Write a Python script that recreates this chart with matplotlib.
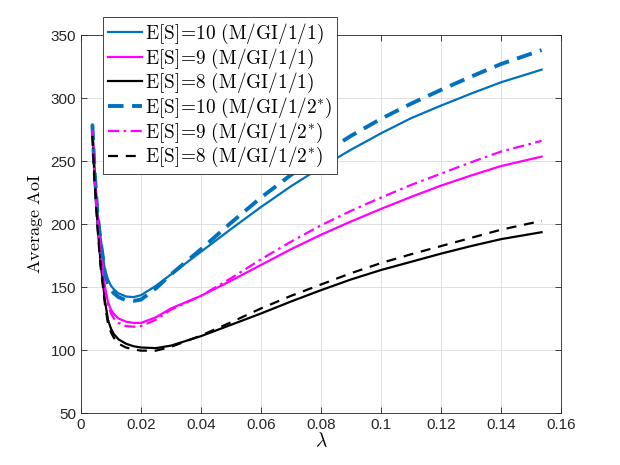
import numpy as np
import matplotlib
matplotlib.use("Agg")
from matplotlib import pyplot as plt

# lambda values
lam = [0.0038, 0.0045, 0.0055, 0.0065, 0.008, 0.009, 0.01, 0.011, 0.0125, 0.015,
       0.0175, 0.02, 0.025, 0.03, 0.04, 0.05, 0.06, 0.07, 0.08, 0.09, 0.1, 0.11,
       0.12, 0.13, 0.14, 0.1535]

# M/GI/1/1
aoi_s10_11 = [279, 245, 210, 190, 163, 156, 151, 148, 145, 142.5,
              142, 143.5, 151, 160, 178, 196, 213.5, 230, 245, 259, 272, 284,
              294, 303.5, 312.5, 322.5]
aoi_s9_11 = [276, 242, 206, 181, 150, 138, 132, 128.5, 125, 122.5,
             121.5, 121.5, 126, 133, 143, 155, 167.5, 180, 191.5, 202, 212, 221.5,
             230.5, 238.5, 246, 253.5]
aoi_s8_11 = [272, 238, 200, 170, 139, 124, 117, 112.5, 108.5, 105,
             103, 102, 101.5, 103.5, 111, 120, 129, 138.5, 147.5, 156, 163.5, 170,
             176.5, 182.5, 188, 193.5]

# M/GI/1/2*
aoi_s10_12 = [279, 243, 208, 187, 161, 153, 148, 145, 142, 139.5,
              139, 140, 149, 160, 180, 201, 221, 239, 255, 270, 283.5, 295.5,
              306.5, 317, 327, 338]
aoi_s9_12 = [275, 240, 203, 177, 148, 136, 129, 125, 121.5, 119,
             118.5, 119, 124, 132, 143, 157, 172, 186, 199, 210.5, 221, 231,
             240, 249, 257.5, 266]
aoi_s8_12 = [270, 235, 197, 167, 136, 121, 114, 109.5, 105, 102,
             100.5, 99.5, 99.5, 102.5, 111.5, 122, 133, 143, 152, 161, 169, 176,
             182.5, 189, 195.5, 202.5]

labels = [r'$\mathrm{E[S]\!=\!10\ (M/GI/1/1)}$',
          r'$\mathrm{E[S]\!=\!9\ (M/GI/1/1)}$',
          r'$\mathrm{E[S]\!=\!8\ (M/GI/1/1)}$',
          r'$\mathrm{E[S]\!=\!10\ (M/GI/1/2^{*})}$',
          r'$\mathrm{E[S]\!=\!9\ (M/GI/1/2^{*})}$',
          r'$\mathrm{E[S]\!=\!8\ (M/GI/1/2^{*})}$']

blue = '#0072BD'
magenta = '#FF00FF'

plt.rcParams['mathtext.fontset'] = 'cm'
plt.rcParams['font.family'] = ['Liberation Sans', 'DejaVu Sans']

fig = plt.figure(figsize=(6.2, 4.65), dpi=100)
ax = fig.add_axes([0.1306, 0.1118, 0.7744, 0.8129])

ax.plot(lam, aoi_s10_11, color=blue, lw=1.6, label=labels[0])
ax.plot(lam, aoi_s9_11, color=magenta, lw=1.6, label=labels[1])
ax.plot(lam, aoi_s8_11, color='black', lw=1.6, label=labels[2])
ax.plot(lam, aoi_s10_12, color=blue, lw=2.8, ls=(0, (4, 2.2)), label=labels[3])
ax.plot(lam, aoi_s9_12, color=magenta, lw=1.6, ls=(0, (5, 2, 1.2, 2)), label=labels[4])
ax.plot(lam, aoi_s8_12, color='black', lw=1.6, ls=(0, (4.5, 3.5)), label=labels[5])

ax.set_xlim(0, 0.16)
ax.set_ylim(50, 350)
ax.set_xticks(np.arange(0, 0.161, 0.02))
ax.set_xticklabels(['0', '0.02', '0.04', '0.06', '0.08', '0.1', '0.12', '0.14', '0.16'])
ax.set_yticks(np.arange(50, 351, 50))
ax.grid(True, color='#dcdcdc', lw=0.6)
ax.set_axisbelow(True)
ax.tick_params(direction='in', top=True, right=True, length=4, width=0.6,
               labelsize=11, colors='#262626')
for sp in ax.spines.values():
    sp.set_color('#262626')
    sp.set_linewidth(0.6)

ax.set_xlabel(r'$\lambda$', fontsize=14, labelpad=0)
ax.set_ylabel(r'$\mathrm{Average\ AoI}$', fontsize=13, labelpad=4)

leg = ax.legend(loc='upper left', bbox_to_anchor=(0.046, 1.048), borderaxespad=0,
                fontsize=13.9, fancybox=False, framealpha=1, edgecolor='#262626',
                handlelength=1.75, handletextpad=0.15, labelspacing=0.03,
                borderpad=0.25)
leg.get_frame().set_linewidth(0.6)

plt.savefig('out.png', dpi=100)
